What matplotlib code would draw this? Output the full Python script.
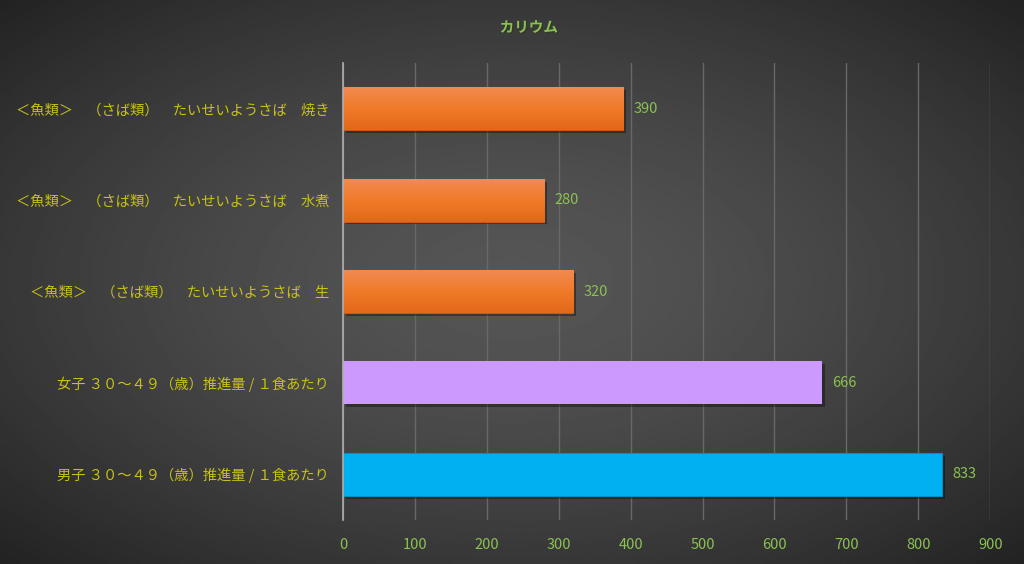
import numpy as np
import matplotlib
matplotlib.use("Agg")
from matplotlib import pyplot as plt
from matplotlib import patheffects as pe

plt.rcParams['font.family'] = ['Noto Sans CJK JP', 'DejaVu Sans']

# data (top to bottom)
labels = [
    "＜魚類＞　（さば類）　たいせいようさば　焼き",
    "＜魚類＞　（さば類）　たいせいようさば　水煮",
    "＜魚類＞　（さば類）　たいせいようさば　生",
    "女子 ３０～４９（歳）推進量 / １食あたり",
    "男子 ３０～４９（歳）推進量 / １食あたり",
]
values = [390, 280, 320, 666, 833]
kinds = ["food", "food", "food", "female", "male"]
xticks = [0, 100, 200, 300, 400, 500, 600, 700, 800, 900]
title = "カリウム"

LABEL_C = "#C8C214"
GREEN = "#8CC152"

fig = plt.figure(figsize=(10.24, 5.64), dpi=100)

# radial gradient background
bg = fig.add_axes([0, 0, 1, 1], zorder=-10)
yy, xx = np.mgrid[-1:1:300j, -1:1:500j]
r = np.sqrt(xx**2 + yy**2) / np.sqrt(2)
bg.imshow(0.335 - 0.2 * r**1.5, cmap="gray", vmin=0, vmax=1, aspect="auto",
          extent=[0, 1, 0, 1])
bg.axis("off")

ax = fig.add_axes([0.335, 0.078, 0.632, 0.81])
ax.patch.set_alpha(0)
ypos = np.arange(len(values))

shadow = [pe.SimplePatchShadow(offset=(2, -2), shadow_rgbFace="black", alpha=0.35), pe.Normal()]
for y, v, k in zip(ypos, values, kinds):
    if k == "food":
        bar = ax.barh(y, v, height=0.47, color="#EC7222", edgecolor="#C85A16",
                      linewidth=0.8, zorder=3)[0]
        bar.set_path_effects(shadow)
        grad = np.linspace(0, 1, 50).reshape(-1, 1)
        cm = matplotlib.colors.LinearSegmentedColormap.from_list(
            "o", ["#F28A52", "#F07A28", "#E2681A"])
        im = ax.imshow(grad, cmap=cm, aspect="auto", zorder=3.5,
                       extent=[0, v, y + 0.235, y - 0.235])
        im.set_clip_path(bar)
    elif k == "female":
        bar = ax.barh(y, v, height=0.47, color="#CC99FF", zorder=3)[0]
        bar.set_path_effects(shadow)
    else:
        bar = ax.barh(y, v, height=0.47, color="#00B0F0", edgecolor="#0090C8",
                      linewidth=0.8, zorder=3)[0]
        bar.set_path_effects(shadow)
    ax.text(v + 14, y, str(v), va="center", ha="left", color=GREEN,
            fontsize=10.5, zorder=5)

ax.set_xlim(0, 900)
ax.set_ylim(4.5, -0.5)
ax.set_xticks(xticks)
ax.set_yticks(ypos)
ax.set_yticklabels(labels, color=LABEL_C, fontsize=10.3)
ax.tick_params(axis="x", colors=GREEN, labelsize=10.5, length=0, pad=13)
ax.tick_params(axis="y", length=0, pad=10)
for lab in ax.get_xticklabels():
    lab.set_color(GREEN)
ax.grid(axis="x", color="#686868", linewidth=1, zorder=0)
for s in ["top", "right", "bottom"]:
    ax.spines[s].set_visible(False)
ax.spines["left"].set_color("#B0B0B0")
ax.spines["left"].set_linewidth(1.2)
ax.spines["left"].set_zorder(4)

fig.text(0.5165, 0.952, title, ha="center", va="center", color=GREEN,
         fontsize=10.5, fontweight="bold",
         path_effects=[pe.withSimplePatchShadow(offset=(1, -1), alpha=0.6)])

fig.savefig("out.png", dpi=100)
